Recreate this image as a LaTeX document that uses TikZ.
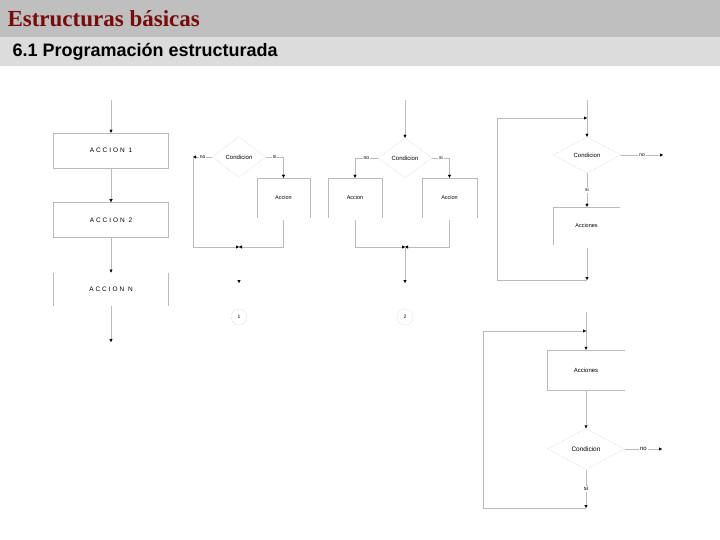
\documentclass[tikz,border=0pt]{standalone}
\usepackage{fontspec}
\setmainfont{Liberation Serif}
\setsansfont{Liberation Sans}
\usepackage{tikz}
\usetikzlibrary{shapes.geometric, arrows.meta, positioning}
\definecolor{titlecolor}{HTML}{780A0A}
\definecolor{bandcolor}{HTML}{BFBFBF}
\definecolor{subbandcolor}{HTML}{DCDCDC}
\definecolor{linecolor}{HTML}{BBBBBB}

\begin{document}
\begin{tikzpicture}[x=1pt, y=-1pt,
  box/.style={rectangle, draw=linecolor, minimum width=115pt, minimum height=35pt, inner sep=0pt, font=\sffamily\fontsize{6.5}{7}\selectfont\addfontfeatures{LetterSpace=30}},
  openbox/.style={rectangle, inner sep=0pt, font=\sffamily\fontsize{5.5}{6}\selectfont},
  decision/.style={diamond, draw=linecolor, densely dotted, inner sep=0pt, font=\sffamily\fontsize{6}{7}\selectfont},
  lbl/.style={fill=white, inner sep=1pt, font=\sffamily\fontsize{5}{6}\selectfont},
  connector/.style={circle, draw=linecolor, densely dotted, minimum size=16pt, inner sep=0pt, font=\sffamily\fontsize{5}{6}\selectfont},
  flow/.style={draw=linecolor, -{Triangle[length=3pt, width=3pt, color=black]}},
  link/.style={draw=linecolor},
  sidebar/.style={draw=linecolor, line width=1.5pt}]

  \useasboundingbox (0,0) rectangle (720,540);

  % Header
  \fill[bandcolor] (0,0) rectangle (720,37);
  \fill[subbandcolor] (0,37) rectangle (720,66);
  \node[anchor=west, text=titlecolor, font=\bfseries\fontsize{23}{26}\selectfont] (title) at (4,19) {Estructuras básicas};
  \node[anchor=west, font=\sffamily\bfseries\fontsize{18}{20}\selectfont] (subtitle) at (9,52) {6.1 Programación estructurada};

  % Sequence
  \coordinate (t1) at (111,100);
  \node[box] (A1) at (111,150.5) {ACCION 1};
  \node[box, below=34pt of A1] (A2) {ACCION 2};
  \node[box, draw=none, minimum height=33pt, below=35pt of A2] (AN) {ACCION N};
  \coordinate[below=36pt of AN] (e1);
  \draw[sidebar] (AN.north west) -- (AN.south west);
  \draw[sidebar] (AN.north east) -- (AN.south east);
  \draw[flow] (t1) -- (A1);
  \draw[flow] (A1) -- (A2);
  \draw[flow] (A2) -- (AN);
  \draw[flow] (AN) -- (e1);

  % Simple selection
  \node[decision, minimum width=53pt, minimum height=41pt] (D2) at (239,157) {Condicion};
  \coordinate (n2) at (193,157);
  \node[openbox, minimum width=53pt, minimum height=40pt] (B2) at (283.5,198) {Accion};
  \coordinate (m2) at (239,247);
  \coordinate (s2) at (239,283);
  \node[connector] (C1) at (239,317) {1};
  \draw[link] (B2.south west) -- (B2.north west) -- (B2.north east) -- (B2.south east);
  \draw[flow] (D2.west) -- node[lbl] {no} (n2);
  \draw[flow] (D2.east) -- node[lbl] {si} (D2.east -| B2) -- (B2.north);
  \draw[flow] (n2) |- (m2);
  \draw[flow] ([yshift=-2pt]B2.south) |- (m2);
  \draw[flow] ([yshift=3pt]s2) -- (s2);

  % Double selection
  \coordinate (t3) at (405,100);
  \node[decision, minimum width=54pt, minimum height=40pt] (D3) at (405,158) {Condicion};
  \node[openbox, minimum width=54pt, minimum height=40pt] (B3a) at (355,198) {Accion};
  \node[openbox, minimum width=55pt, minimum height=40pt] (B3b) at (449.5,198) {Accion};
  \coordinate (m3) at (405,247);
  \coordinate (s3) at (405,283);
  \node[connector] (C2) at (405,317) {2};
  \draw[link] (B3a.south west) -- (B3a.north west) -- (B3a.north east) -- (B3a.south east);
  \draw[link] (B3b.south west) -- (B3b.north west) -- (B3b.north east) -- (B3b.south east);
  \draw[flow] (t3) -- (D3);
  \draw[flow] (D3.west) -- node[lbl] {no} (D3.west -| B3a) -- (B3a.north);
  \draw[flow] (D3.east) -- node[lbl] {si} (D3.east -| B3b) -- (B3b.north);
  \draw[flow] ([yshift=-2pt]B3a.south) |- (m3);
  \draw[flow] ([yshift=-2pt]B3b.south) |- (m3);
  \draw[flow] (m3) -- (s3);

  % While loop
  \coordinate (t4) at (587,100);
  \coordinate (l4) at (587,118);
  \node[decision, minimum width=68pt, minimum height=36pt] (D4) at (587,155) {Condicion};
  \coordinate (x4) at (663,155);
  \node[openbox, minimum width=67pt, minimum height=38pt] (A4) at (586.5,226) {Acciones};
  \coordinate (e4) at (587,280);
  \coordinate (c4) at (497,118);
  \draw[link] (A4.south west) -- (A4.north west) -- (A4.north east);
  \draw[link] (t4) -- (l4);
  \draw[flow] (l4) -- (D4);
  \draw[flow] (D4.east) -- node[lbl] {no} (x4);
  \draw[flow] (D4) -- node[lbl] {si} (A4.north -| D4);
  \draw[flow] ([yshift=-3pt]A4.south -| D4) -- (e4);
  \draw[flow] (e4) -| (c4) -- (l4);

  % Repeat loop
  \coordinate (t5) at (586,312);
  \coordinate (l5) at (586,331);
  \node[openbox, minimum width=78pt, minimum height=40pt, font=\sffamily\fontsize{6}{7}\selectfont] (A5) at (586,370) {Acciones};
  \node[decision, minimum width=77pt, minimum height=41pt, font=\sffamily\fontsize{6.5}{7}\selectfont] (D5) at (586,449) {Condicion};
  \coordinate (x5) at (662,449);
  \coordinate (e5) at (586,508);
  \coordinate (c5) at (483,331);
  \draw[link] (A5.north east) -- (A5.north west) -- (A5.south west) -- (A5.south east);
  \draw[link] (t5) -- (l5);
  \draw[flow] (l5) -- (A5);
  \draw[flow] (A5) -- (D5);
  \draw[flow] (D5.east) -- node[lbl, font=\sffamily\fontsize{6}{7}\selectfont] {no} (x5);
  \draw[flow] (D5) -- node[lbl, font=\sffamily\fontsize{6}{7}\selectfont] {si} (e5);
  \draw[flow] (e5) -| (c5) -- (l5);

\end{tikzpicture}
\end{document}
